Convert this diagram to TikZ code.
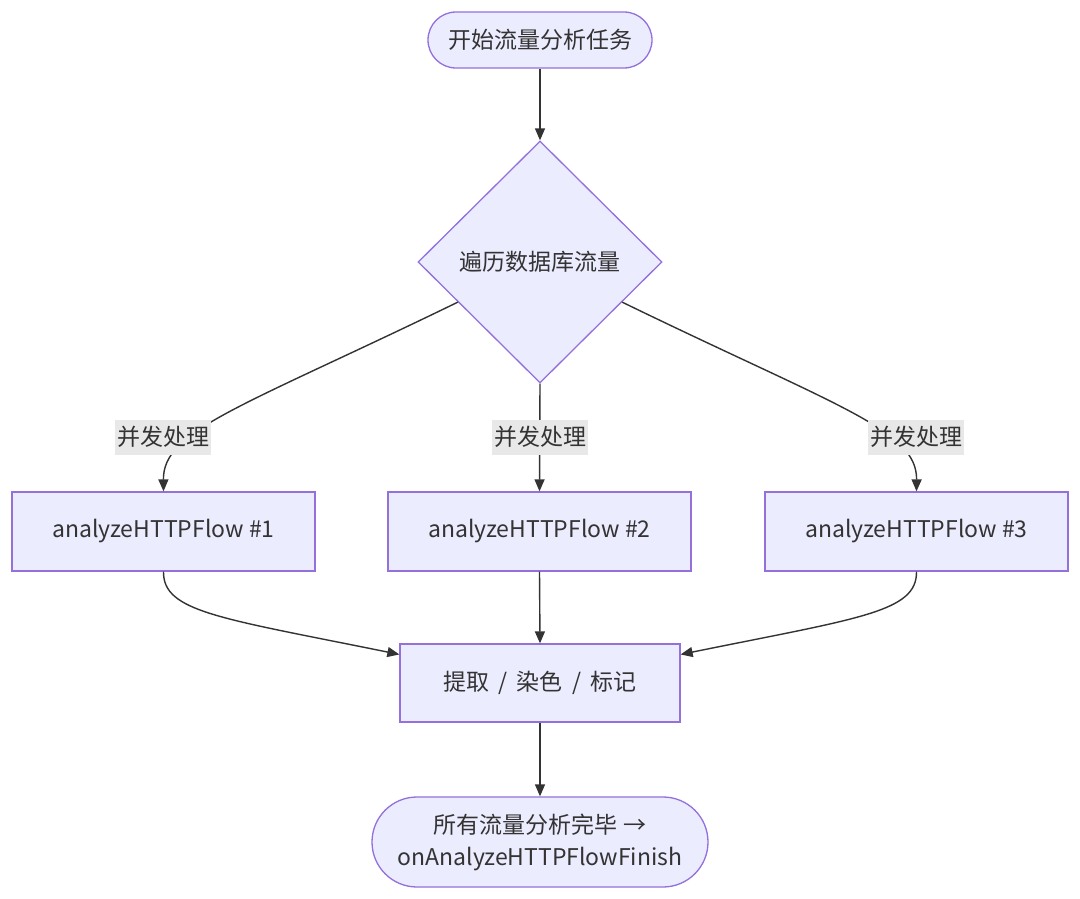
\documentclass[tikz,border=0pt]{standalone}
\usepackage{fontspec}
\setmainfont{Noto Sans CJK SC}
\usetikzlibrary{shapes.geometric,arrows.meta,calc}
\definecolor{nfill}{HTML}{ECECFF}
\definecolor{nline}{HTML}{9370DB}
\definecolor{eline}{HTML}{333333}
\definecolor{lbg}{HTML}{E8E8E8}
\newcommand{\sepsl}{\hspace{4pt} / \hspace{4pt}}
\begin{document}
\begin{tikzpicture}[x=1pt,y=-1pt,
  base/.style={draw=nline,fill=nfill,line width=1.3pt,text=eline,font=\fontsize{23}{32}\selectfont,inner sep=0pt},
  stadium/.style={base,rounded corners=#1},
  boxnode/.style={base,rectangle,minimum width=303pt,minimum height=79pt},
  decision/.style={base,diamond,minimum width=244pt,minimum height=242pt},
  lbl/.style={fill=lbg,text=eline,font=\fontsize{23}{26}\selectfont,minimum width=96pt,minimum height=35pt,inner sep=0pt},
  edge/.style={draw=eline,line width=1.4pt,-{Triangle[length=12pt,width=10pt]}}]
\useasboundingbox (0,0) rectangle (1080,899);
\fill[white] (0,0) rectangle (1080,899);
\node[stadium=28pt,minimum width=224pt,minimum height=56pt] (start) at (540,40) {开始流量分析任务};
\node[decision] (d) at (540,262) {遍历数据库流量};
\node[boxnode] (b1) at (163.5,531.5) {analyzeHTTPFlow \#1};
\node[boxnode] (b2) at (539.5,531.5) {analyzeHTTPFlow \#2};
\node[boxnode] (b3) at (916.5,531.5) {analyzeHTTPFlow \#3};
\node[base,rectangle,minimum width=280pt,minimum height=78pt] (m) at (540,683) {提取\sepsl 染色\sepsl 标记};
\node[stadium=45pt,minimum width=336pt,minimum height=90pt,align=center] (end) at (540,842) {所有流量分析完毕 →\\onAnalyzeHTTPFlowFinish};
\coordinate (dL) at ($(d.west)!0.33!(d.south)$);
\coordinate (dR) at ($(d.east)!0.33!(d.south)$);
\coordinate (m1) at ($(m.north west)!0.14!(m.south west)$);
\coordinate (m3) at ($(m.north east)!0.14!(m.south east)$);
\draw[edge] (start) -- (d.north);
\draw[edge] (dL) .. controls (240,408) and (163,430) .. (b1.north);
\draw[edge] (dR) .. controls (840,408) and (917,430) .. (b3.north);
\draw[edge] (d.south) -- (b2.north);
\node[lbl] (l1) at (163,437) {并发处理};
\node[lbl] (l2) at (540,437) {并发处理};
\node[lbl] (l3) at (916,437) {并发处理};
\draw[edge] (b1.south) .. controls (163,612) and (220,618) .. (m1);
\draw[edge] (b3.south) .. controls (917,612) and (860,618) .. (m3);
\draw[edge] (b2.south) -- (m.north);
\draw[edge] (m.south) -- (end.north);
\end{tikzpicture}
\end{document}
